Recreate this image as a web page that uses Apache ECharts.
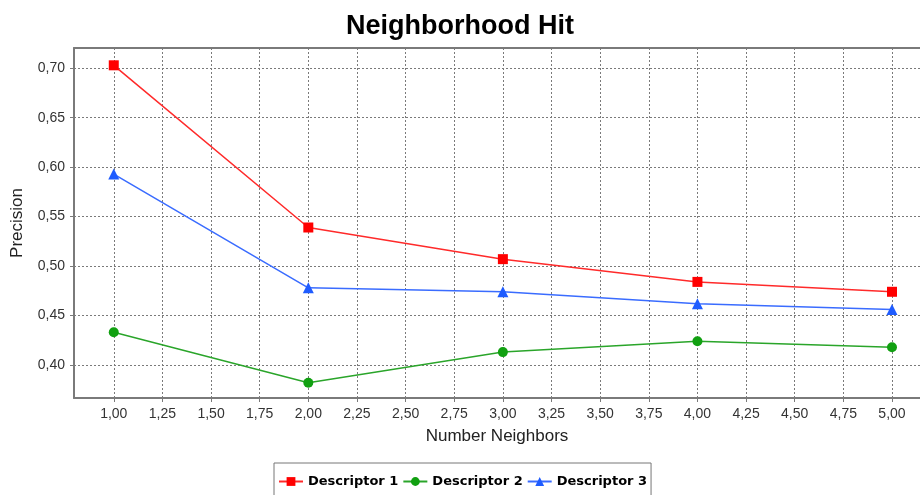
<!DOCTYPE html>
<html>
<head>
<meta charset="utf-8">
<script src="https://cdn.jsdelivr.net/npm/echarts@6/dist/echarts.min.js"></script>
<style>
html,body{margin:0;padding:0;background:#fff;}
#chart{width:920px;height:495px;}
</style>
</head>
<body>
<div id="chart"></div>
<script>
var neighbors = [1, 2, 3, 4, 5];
var descriptor1 = [0.703, 0.539, 0.507, 0.484, 0.474];
var descriptor2 = [0.433, 0.382, 0.413, 0.424, 0.418];
var descriptor3 = [0.593, 0.478, 0.474, 0.462, 0.456];
var xTicks = [1, 1.25, 1.5, 1.75, 2, 2.25, 2.5, 2.75, 3, 3.25, 3.5, 3.75, 4, 4.25, 4.5, 4.75, 5];
var yTicks = [0.40, 0.45, 0.50, 0.55, 0.60, 0.65, 0.70];
var seriesNames = ['Descriptor 1', 'Descriptor 2', 'Descriptor 3'];

function pairs(xs, ys) { return xs.map(function (x, i) { return [x, ys[i]]; }); }
function fmt(v) { return v.toFixed(2).replace('.', ','); }

var chart = echarts.init(document.getElementById('chart'), null, {renderer: 'canvas'});
var gridLine = {show: true, lineStyle: {color: '#7a7a7a', width: 1, type: [2, 2]}};
var axisCol = '#7a7a7a';
var xMin = 0.7956, xMax = 5.144;
chart.setOption({
  animation: false,
  backgroundColor: '#ffffff',
  title: {
    text: 'Neighborhood Hit', left: 'center', top: 8,
    textStyle: {fontFamily: 'Liberation Sans', fontWeight: 'bold', fontSize: 27, color: '#000'}
  },
  legend: {
    data: seriesNames, left: 274, top: 463,
    padding: [12, 4, 12, 4], itemGap: 4, itemWidth: 24, itemHeight: 11,
    borderColor: '#777', borderWidth: 1,
    textStyle: {fontFamily: 'DejaVu Sans', fontWeight: 'bold', fontSize: 13, color: '#000'}
  },
  grid: {left: 74, top: 48, right: 0, bottom: 97, show: false, containLabel: false},
  xAxis: [{
    type: 'value', min: xMin, max: xMax,
    name: 'Number Neighbors', nameLocation: 'middle', nameGap: 30,
    nameTextStyle: {fontFamily: 'Liberation Sans', fontSize: 17, color: '#222'},
    axisLine: {show: true, onZero: false, lineStyle: {color: axisCol, width: 2}},
    axisTick: {show: true, customValues: xTicks, length: 4, lineStyle: {color: axisCol}},
    axisLabel: {customValues: xTicks, formatter: fmt, margin: 9, fontFamily: 'Liberation Sans', fontSize: 14, color: '#333'},
    splitLine: gridLine
  }, {
    type: 'value', min: xMin, max: xMax, position: 'top',
    axisLine: {show: true, onZero: false, lineStyle: {color: axisCol, width: 2}},
    axisTick: {show: false}, axisLabel: {show: false}, splitLine: {show: false}
  }],
  yAxis: {
    type: 'value', min: 0.3666, max: 0.7205,
    name: 'Precision', nameLocation: 'middle', nameGap: 48, nameRotate: 90,
    nameTextStyle: {fontFamily: 'Liberation Sans', fontSize: 17, color: '#222'},
    axisLine: {show: true, onZero: false, lineStyle: {color: axisCol, width: 2}},
    axisTick: {show: true, customValues: yTicks, length: 4, lineStyle: {color: axisCol}},
    axisLabel: {customValues: yTicks, formatter: fmt, margin: 9, fontFamily: 'Liberation Sans', fontSize: 14, color: '#333'},
    splitLine: gridLine
  },
  series: [
    {name: seriesNames[0], type: 'line', data: pairs(neighbors, descriptor1), symbol: 'rect', symbolSize: 10,
     itemStyle: {color: '#ff0000'}, lineStyle: {color: '#ff2a2a', width: 1.5}},
    {name: seriesNames[1], type: 'line', data: pairs(neighbors, descriptor2), symbol: 'circle', symbolSize: 10,
     itemStyle: {color: '#11a011'}, lineStyle: {color: '#2aa52a', width: 1.5}},
    {name: seriesNames[2], type: 'line', data: pairs(neighbors, descriptor3), symbol: 'triangle', symbolSize: 11,
     itemStyle: {color: '#1f5cff'}, lineStyle: {color: '#3a6cff', width: 1.5}}
  ]
});
</script>
</body>
</html>
